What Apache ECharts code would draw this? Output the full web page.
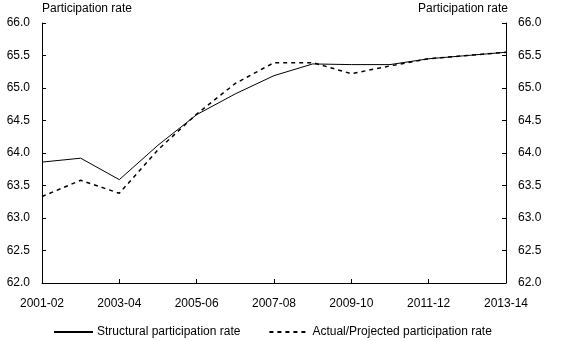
<!DOCTYPE html>
<html><head><meta charset="utf-8">
<script src="https://cdn.jsdelivr.net/npm/echarts@6/dist/echarts.min.js"></script>
<style>html,body{margin:0;padding:0;background:#fff}#c{width:561px;height:341px}</style>
</head><body><div id="c"></div>
<script>
var categories = ['2001-02','2002-03','2003-04','2004-05','2005-06','2006-07','2007-08','2008-09','2009-10','2010-11','2011-12','2012-13','2013-14'];
var structural = [63.86,63.92,63.59,64.12,64.59,64.91,65.19,65.37,65.36,65.36,65.45,65.5,65.55];
var actual = [63.33,63.58,63.38,64.05,64.6,65.07,65.39,65.39,65.22,65.34,65.45,65.5,65.55];
var yName = 'Participation rate';
var font = 'Arial, "Liberation Sans", sans-serif';
var chart = echarts.init(document.getElementById('c'));
var yAxisBase = function(pos){
  return {
    type:'value', position:pos, min:62, max:66, interval:0.5,
    name:yName, nameGap:8,
    nameTextStyle:{color:'#000', fontSize:12, fontFamily:font, align: pos==='left'?'left':'right', padding: pos==='left'?[0,0,0,0]:[0,-2,0,0]},
    axisLine:{show:true, lineStyle:{color:'#000', width:1}},
    axisTick:{show:true, inside:true, length:4, lineStyle:{color:'#000'}},
    axisLabel:{color:'#000', fontSize:12, fontFamily:font, margin:12, formatter:function(v){return v.toFixed(1);}},
    splitLine:{show:false}
  };
};
chart.setOption({
  animation:false,
  grid:{left:42, right:55, top:23, bottom:58, containLabel:false},
  xAxis:{
    type:'category', data:categories, boundaryGap:false,
    axisLine:{lineStyle:{color:'#000', width:1}},
    axisTick:{show:true, inside:true, length:4, interval:1, lineStyle:{color:'#000'}},
    axisLabel:{color:'#000', fontSize:12, fontFamily:font, interval:1, margin:15}
  },
  yAxis:[yAxisBase('left'), yAxisBase('right')],
  legend:{
    top:321, left:48, itemGap:28, itemWidth:39, itemHeight:12,
    textStyle:{color:'#000', fontSize:12, fontFamily:font, padding:[0,0,0,-1]},
    itemStyle:{color:'transparent', borderWidth:0, opacity:0},
    data:['Structural participation rate','Actual/Projected participation rate']
  },
  series:[
    {name:'Structural participation rate', type:'line', data:structural, symbol:'none',
     lineStyle:{color:'#000', width:1, type:'solid'}, itemStyle:{color:'#000'}},
    {name:'Actual/Projected participation rate', type:'line', data:actual, symbol:'none',
     lineStyle:{color:'#000', width:1.5, type:[4,4]}, itemStyle:{color:'#000'}}
  ]
});
</script></body></html>
